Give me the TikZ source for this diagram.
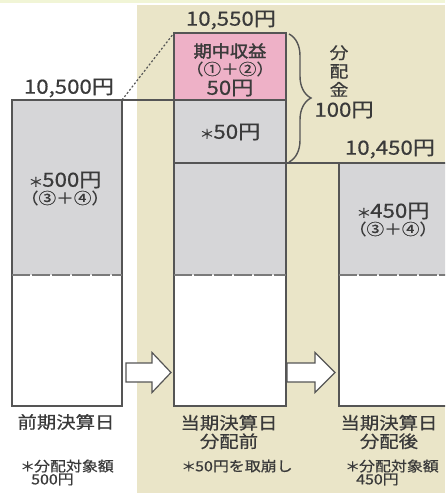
\documentclass[tikz,border=0pt]{standalone}
\usepackage{fontspec}
\setmainfont{Noto Sans CJK JP}[FakeStretch=1.14, FakeBold=0.6]
\newfontfamily\heavyjp{Noto Sans CJK JP}[FakeStretch=1.1, FakeBold=2]
\usetikzlibrary{decorations.pathreplacing}
\definecolor{beige}{HTML}{EAE5C8}
\definecolor{topstrip}{HTML}{F1F5D6}
\definecolor{boxgray}{HTML}{D6D6D8}
\definecolor{pinkc}{HTML}{EEB1C7}
\definecolor{edge}{HTML}{555555}
\definecolor{ink}{HTML}{3A3A3A}
\definecolor{dash}{HTML}{7A7A7A}
\newcommand{\myast}{{\fontsize{13}{13}\selectfont ＊}\hspace{-1pt}}
\begin{document}
\begin{tikzpicture}[x=1pt,y=-1pt,
  fillseg/.style={anchor=north west, inner sep=0pt, outer sep=0pt, draw=none},
  boxline/.style={draw=edge, line width=1.4pt},
  dashline/.style={draw=dash, line width=1.6pt, dash pattern=on 18pt off 2pt},
  txt/.style={text=ink, inner sep=0pt, align=center},
  big/.style={txt, font=\fontsize{19.5}{20}\selectfont},
  paren/.style={txt, font=\fontsize{15.5}{15.5}\selectfont},
  label/.style={txt, font=\fontsize{17}{18.5}\selectfont},
  small/.style={txt, font=\fontsize{14}{14}\selectfont},
  note/.style={text=ink, inner sep=0pt, align=left, anchor=west, font=\fontsize{14}{11.5}\selectfont},
  blockarrow/.style={draw=edge, fill=white, line width=1.2pt, line join=miter}
]
\useasboundingbox (0,0) rectangle (445,493);
\clip (0,0) rectangle (445,493);
\fill[topstrip] (0,0) rectangle (445,3);
\fill[beige] (137,5) rectangle (445,493);

% left box
\node[fillseg, fill=boxgray, minimum width=110pt, minimum height=175pt] (Lg) at (12,100) {};
\node[fillseg, fill=white, minimum width=110pt, minimum height=131pt] (Lw) at (12,275) {};
\draw[boxline] (Lg.north west) rectangle (Lw.south east);
\draw[dashline] (Lg.south west) -- (Lg.south east);

% middle box
\node[fillseg, fill=pinkc, minimum width=112pt, minimum height=67pt] (Mp) at (174,33) {};
\node[fillseg, fill=boxgray, minimum width=112pt, minimum height=63pt] (Mg1) at (174,100) {};
\node[fillseg, fill=boxgray, minimum width=112pt, minimum height=112pt] (Mg2) at (174,163) {};
\node[fillseg, fill=white, minimum width=112pt, minimum height=131pt] (Mw) at (174,275) {};
\draw[boxline] (Mp.north west) rectangle (Mw.south east);
\draw[boxline] (Mp.south west) -- (Mp.south east);
\draw[dashline] (Mg2.south west) -- (Mg2.south east);

% right box
\node[fillseg, fill=boxgray, minimum width=120pt, minimum height=112pt] (Rg) at (339,163) {};
\node[fillseg, fill=white, minimum width=120pt, minimum height=131pt] (Rw) at (339,275) {};
\draw[boxline] (Rg.north west) rectangle (Rw.south east);
\draw[dashline] (Rg.south west) -- (Rg.south east);

% connecting lines
\draw[boxline] (Lg.north east) -- (Mg1.north west);
\draw[edge, line width=1.2pt, dash pattern=on 2pt off 2pt] (Lg.north east) -- (Mp.north west);
\draw[boxline] (Mg2.north east) -- (Rg.north west);
\draw[draw=edge, line width=2.4pt] (Mg2.north west) -- (Mg2.north east);

% brace
\coordinate (B1) at (289,34);
\coordinate (B2) at (289,162);
\draw[edge, line width=1.4pt, decorate, decoration={brace, amplitude=22pt}] (B1) -- (B2);

% labels
\node[big] (t1) at (69,88) {10,500円};
\node[big] (t2) at (231,20) {10,550円};
\node[big] (t3) at (390,149) {10,450円};

\node[txt, font=\heavyjp\fontsize{16.5}{17}\selectfont] (p1) at (230,51) {期中収益};
\node[paren] (p2) at (230,69) {（①＋②）};
\node[big] (p3) at (230,88) {50円};
\node[big] (g1) at (230,132) {\myast 50円};

\node[txt, font=\fontsize{16.5}{18.5}\selectfont] (d1) at (339,71) {分\\配\\金};
\node[big] (d2) at (344,110) {100円};

\node[big] (l1) at (65,180) {\myast 500円};
\node[paren] (l2) at (65,198) {（③＋④）};
\node[big] (r1) at (393,211) {\myast 450円};
\node[paren] (r2) at (393,229) {（③＋④）};

% arrows (block arrows)
\coordinate (A1) at (126,372.5);
\coordinate (A2) at (287,372.5);
\draw[blockarrow] (A1) ++(0,-9.5) -- ++(26,0) -- ++(0,-10.5) -- ++(19,20) -- ++(-19,20) -- ++(0,-10.5) -- ++(-26,0) -- cycle;
\draw[blockarrow] (A2) ++(0,-9.5) -- ++(28,0) -- ++(0,-10.5) -- ++(20,20) -- ++(-20,20) -- ++(0,-10.5) -- ++(-28,0) -- cycle;

% bottom labels
\node[label] (b1) at (66,422) {前期決算日};
\node[note] (b2) at (20,472.5) {\myast 分配対象額\\\hspace{11pt}500円};
\node[label] (m1) at (229,432) {当期決算日\\分配前};
\node[small] (m2) at (237,466) {\myast 50円を取崩し};
\node[label] (q1) at (389,432) {当期決算日\\分配後};
\node[note] (q2) at (345,472.5) {\myast 分配対象額\\\hspace{11pt}450円};
\end{tikzpicture}
\end{document}
